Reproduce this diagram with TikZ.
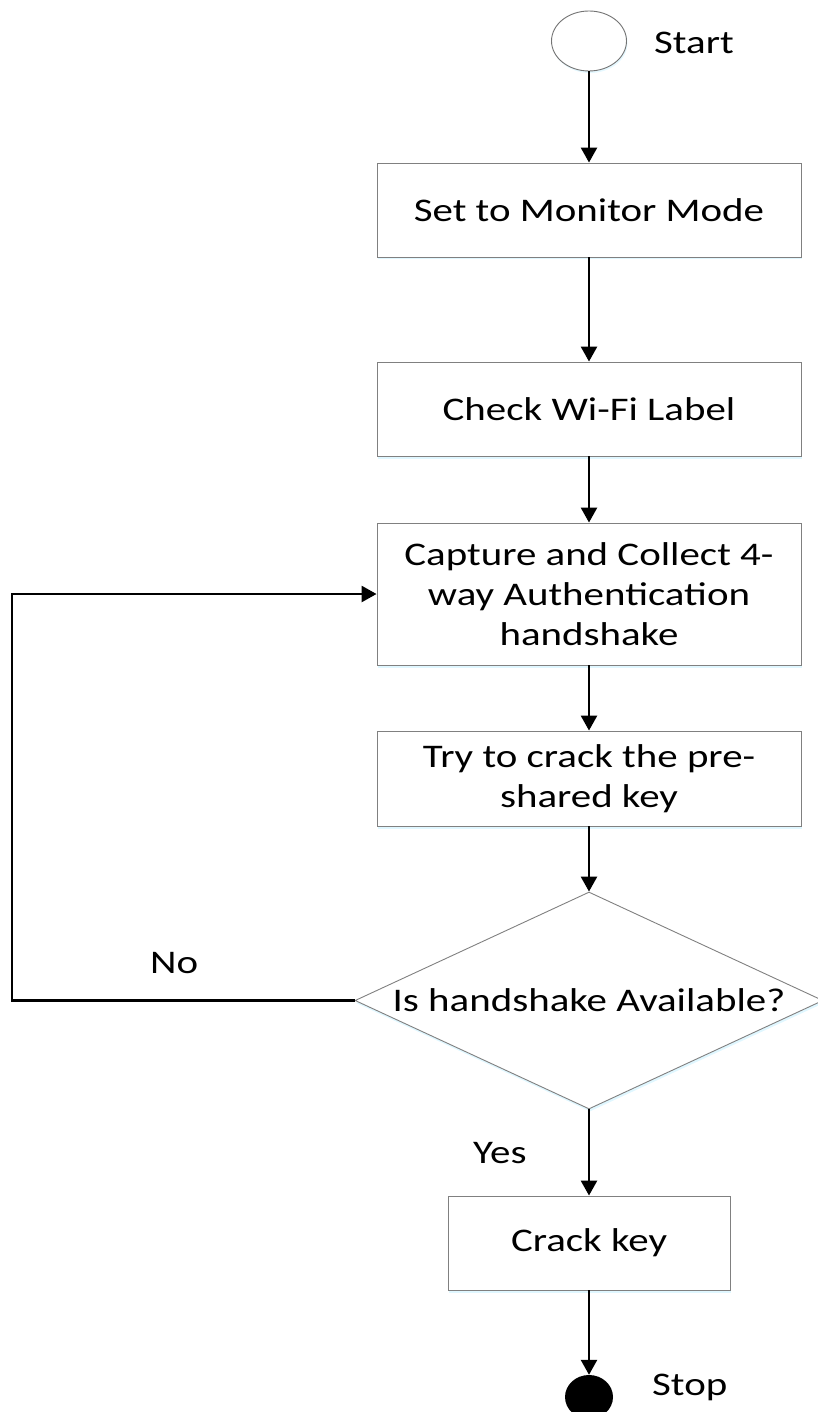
\documentclass[tikz,border=0pt]{standalone}
\usepackage{fontspec}
\setmainfont{Carlito}[FakeStretch=1.24]
\usetikzlibrary{arrows.meta,shapes.geometric,shadows}
\begin{document}
\begin{tikzpicture}[x=1pt,y=-1pt,
  every node/.style={font=\fontsize{33}{40}\selectfont},
  box/.style={draw=black!50, line width=0.9pt, fill=white, align=center, inner sep=0pt,
    minimum width=424pt, minimum height=94pt,
    drop shadow={shadow xshift=1pt, shadow yshift=-2.5pt, fill=blue!25!cyan!20, opacity=0.6}},
  conn/.style={line width=2.6pt, -{Triangle[length=15pt,width=16pt]}},
  lbl/.style={inner sep=0pt, anchor=base west}]
\useasboundingbox (0,0) rectangle (817,1412);

\node[ellipse, draw=black!55, line width=0.9pt, fill=white, minimum width=75pt, minimum height=60pt, inner sep=0pt,
  drop shadow={shadow xshift=1pt, shadow yshift=-2pt, fill=blue!25!cyan!20, opacity=0.5}] (start) at (589,41) {};
\node[lbl] (startlbl) at (654,54) {Start};

\node[box] (b1) at (589,210) {Set to Monitor Mode};
\node[box] (b2) at (589,409) {Check Wi-Fi Label};
\node[box, minimum height=142pt] (b3) at (589,594) {Capture and Collect 4-\\way Authentication\\handshake};
\node[box, minimum height=95pt] (b4) at (589,778.5) {Try to crack the pre-\\shared key};

\node[diamond, draw=black!50, line width=0.9pt, fill=white, minimum width=468pt, minimum height=217pt, inner sep=0pt,
  drop shadow={shadow xshift=1pt, shadow yshift=-2.5pt, fill=blue!25!cyan!20, opacity=0.6}] (dia) at (589,1000.5) {};
\node[inner sep=0pt] (diatext) at (589,1000) {Is handshake Available?};

\node[box, minimum width=282pt] (b5) at (589,1243) {Crack key};

\node[ellipse, fill=black, minimum width=48pt, minimum height=44pt, inner sep=0pt] (stop) at (589,1397) {};
\node[lbl] (stoplbl) at (652,1395) {Stop};

\node[lbl] (yes) at (473,1163) {Yes};
\node[lbl] (no) at (150,973) {No};

\coordinate (loop) at (12,1000.5);

\draw[conn] (start.south) -- (b1.north);
\draw[conn] (b1.south) -- (b2.north);
\draw[conn] (b2.south) -- (b3.north);
\draw[conn] (b3.south) -- (b4.north);
\draw[conn] (b4.south) -- (dia.north);
\draw[conn] (dia.south) -- (b5.north);
\draw[conn] (b5.south) -- (stop.north);
\draw[conn] (dia.west) -- (loop) |- (b3.west);
\end{tikzpicture}
\end{document}
